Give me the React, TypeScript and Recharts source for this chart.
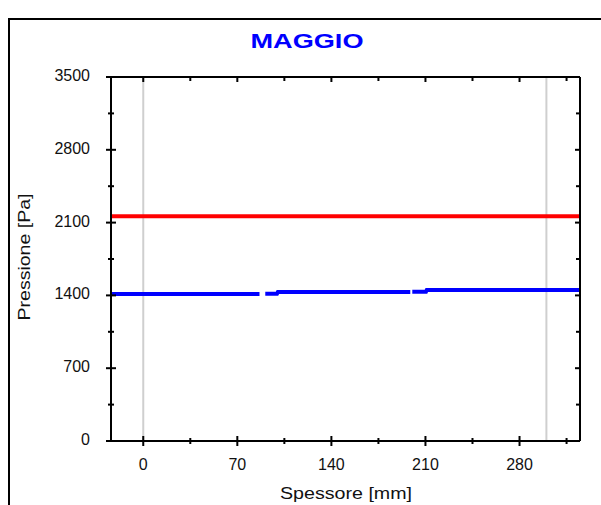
import { LineChart, Line, XAxis, YAxis, ReferenceLine } from "recharts";

// Thickness axis (mm) and pressure axis (Pa)
const xDomain = [-24, 325];
const yDomain = [0, 3500];
const xTicks = [0, 35, 70, 105, 140, 175, 210, 245, 280, 315];
const xLabels = [0, 70, 140, 210, 280];
const yTicks = [0, 350, 700, 1050, 1400, 1750, 2100, 2450, 2800, 3150, 3500];
const yLabels = [0, 700, 1400, 2100, 2800, 3500];

// Wall faces
const wallEdges = [0, 300];

// Saturation pressure (red)
const satX = [-24, 325];
const satP = [2160, 2160];

// Vapour pressure (blue), null marks the small breaks in the trace
const vapX = [-24, 86.5, 88, 90.8, 99.5, 100.2, 198.7, 199.5, 200.2, 210.4, 211, 325];
const vapP = [1413, 1413, null, 1415, 1415, 1433, 1433, null, 1436, 1436, 1452, 1452];

const satData = satX.map((x, i) => ({ x, p: satP[i] }));
const vapData = vapX.map((x, i) => ({ x, p: vapP[i] }));

const FONT = '"Liberation Sans", Arial, sans-serif';
const INK = "#111";

function BottomTick({ x, y, payload }: any) {
  const major = xLabels.includes(payload.value);
  const h = major ? 5 : 3;
  return (
    <g>
      <line x1={x} x2={x} y1={y - h} y2={y + h} stroke="#000" strokeWidth={2} />
      {major && (
        <text x={x} y={y + 29} textAnchor="middle" fontSize={16} fontFamily={FONT} fill={INK}>
          {payload.value}
        </text>
      )}
    </g>
  );
}

function TopTick({ x, y, payload }: any) {
  const h = xLabels.includes(payload.value) ? 5 : 4;
  return <line x1={x} x2={x} y1={y} y2={y + h} stroke="#000" strokeWidth={2} />;
}

function LeftTick({ x, y, payload }: any) {
  const major = yLabels.includes(payload.value);
  const h = major ? 5 : 3;
  return (
    <g>
      <line x1={x - h} x2={x + h} y1={y} y2={y} stroke="#000" strokeWidth={2} />
      {major && (
        <text x={x - 21} y={y + 4} textAnchor="end" fontSize={16} fontFamily={FONT} fill={INK}>
          {payload.value}
        </text>
      )}
    </g>
  );
}

function RightTick({ x, y, payload }: any) {
  const h = yLabels.includes(payload.value) ? 5 : 4;
  return <line x1={x - h} x2={x} y1={y} y2={y} stroke="#000" strokeWidth={2} />;
}

const axisLine = { stroke: "#000", strokeWidth: 2 };

export default function App() {
  return (
    <div
      style={{
        position: "fixed",
        left: 0,
        top: 0,
        width: 601,
        height: 505,
        overflow: "hidden",
        background: "#fff",
      }}
    >
      <div
        style={{
          position: "absolute",
          left: 8,
          top: 18,
          width: 640,
          height: 540,
          border: "2px solid #000",
        }}
      />
      <div style={{ position: "absolute", left: 0, top: 0 }}>
        <LineChart
          width={601}
          height={505}
          margin={{ top: 76, right: 20, bottom: 63, left: 110 }}
        >
          <XAxis
            xAxisId="s"
            dataKey="x"
            type="number"
            domain={xDomain}
            ticks={xTicks}
            interval={0}
            height={1}
            tickSize={0}
            tickMargin={0}
            tickLine={false}
            axisLine={axisLine}
            tick={<BottomTick />}
            allowDataOverflow
          />
          <XAxis
            xAxisId="st"
            orientation="top"
            dataKey="x"
            type="number"
            domain={xDomain}
            ticks={xTicks}
            interval={0}
            height={1}
            tickSize={0}
            tickMargin={0}
            tickLine={false}
            axisLine={axisLine}
            tick={<TopTick />}
            allowDataOverflow
          />
          <YAxis
            yAxisId="p"
            type="number"
            domain={yDomain}
            ticks={yTicks}
            interval={0}
            width={1}
            tickSize={0}
            tickMargin={0}
            tickLine={false}
            axisLine={axisLine}
            tick={<LeftTick />}
            allowDataOverflow
          />
          <YAxis
            yAxisId="pr"
            orientation="right"
            type="number"
            domain={yDomain}
            ticks={yTicks}
            interval={0}
            width={1}
            tickSize={0}
            tickMargin={0}
            tickLine={false}
            axisLine={axisLine}
            tick={<RightTick />}
            allowDataOverflow
          />
          {wallEdges.map((w) => (
            <ReferenceLine
              key={w}
              x={w}
              xAxisId="s"
              yAxisId="p"
              stroke="#cfcfcf"
              strokeWidth={2}
            />
          ))}
          <Line
            xAxisId="s"
            yAxisId="p"
            data={satData}
            dataKey="p"
            type="linear"
            stroke="#ff0000"
            strokeWidth={4}
            dot={false}
            activeDot={false}
            isAnimationActive={false}
          />
          <Line
            xAxisId="s"
            yAxisId="p"
            data={vapData}
            dataKey="p"
            type="linear"
            stroke="#0000ff"
            strokeWidth={4}
            dot={false}
            activeDot={false}
            connectNulls={false}
            isAnimationActive={false}
          />
        </LineChart>
      </div>
      <svg
        width={601}
        height={505}
        style={{ position: "absolute", left: 0, top: 0, pointerEvents: "none" }}
      >
        <text
          x={307}
          y={47.5}
          textAnchor="middle"
          fontSize={20.5}
          fontWeight="bold"
          fontFamily={FONT}
          fill="#0000ff"
          textLength={113}
          lengthAdjust="spacingAndGlyphs"
        >
          MAGGIO
        </text>
        <text
          x={346}
          y={499}
          textAnchor="middle"
          fontSize={16}
          fontFamily={FONT}
          fill={INK}
          textLength={132}
          lengthAdjust="spacingAndGlyphs"
        >
          Spessore [mm]
        </text>
        <text
          x={30}
          y={257}
          textAnchor="middle"
          fontSize={16}
          fontFamily={FONT}
          fill={INK}
          textLength={127}
          lengthAdjust="spacingAndGlyphs"
          transform="rotate(-90, 30, 257)"
        >
          Pressione [Pa]
        </text>
      </svg>
    </div>
  );
}
